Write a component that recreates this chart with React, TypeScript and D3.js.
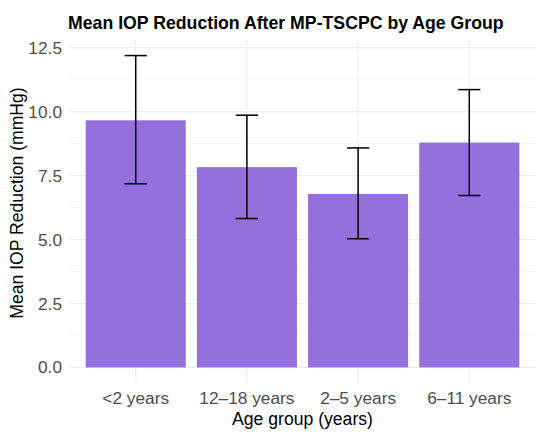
import React, { useEffect, useRef } from 'react';
import * as d3 from 'd3';

const categories = ['<2 years', '12–18 years', '2–5 years', '6–11 years'];
const meanValues = [9.66, 7.83, 6.78, 8.79];
const lowerValues = [7.18, 5.82, 5.03, 6.72];
const upperValues = [12.19, 9.86, 8.58, 10.86];
const yTicks = [0, 2.5, 5, 7.5, 10, 12.5];
const yMinorTicks = [1.25, 3.75, 6.25, 8.75, 11.25];

const WIDTH = 550;
const HEIGHT = 444;
const margin = { top: 40, right: 14, bottom: 61, left: 69 };

const App: React.FC = () => {
  const ref = useRef<SVGSVGElement>(null);

  useEffect(() => {
    if (!ref.current) return;
    const root = d3.select(ref.current);
    root.selectAll('*').remove();

    const innerW = WIDTH - margin.left - margin.right;
    const innerH = HEIGHT - margin.top - margin.bottom;
    const font = "'Liberation Sans', Arial, sans-serif";

    // ggplot-like expansion: discrete add 0.6, continuous mult 0.05
    const n = categories.length;
    const x = d3.scaleLinear().domain([0.4, n + 0.6]).range([0, innerW]);
    const yMax = d3.max(upperValues) as number;
    const pad = yMax * 0.05;
    const y = d3.scaleLinear().domain([-pad, yMax + pad]).range([innerH, 0]);

    const g = root.append('g').attr('transform', `translate(${margin.left},${margin.top})`);

    // grid
    g.selectAll('.minor').data(yMinorTicks).enter().append('line')
      .attr('x1', 0).attr('x2', innerW)
      .attr('y1', d => y(d)).attr('y2', d => y(d))
      .attr('stroke', '#f2f2f2').attr('stroke-width', 0.6);
    g.selectAll('.major').data(yTicks).enter().append('line')
      .attr('x1', 0).attr('x2', innerW)
      .attr('y1', d => y(d)).attr('y2', d => y(d))
      .attr('stroke', '#ebebeb').attr('stroke-width', 1.1);
    g.selectAll('.vgrid').data(categories).enter().append('line')
      .attr('x1', (_, i) => x(i + 1)).attr('x2', (_, i) => x(i + 1))
      .attr('y1', 0).attr('y2', innerH)
      .attr('stroke', '#ebebeb').attr('stroke-width', 1.1);

    // bars
    const bw = x(1.45) - x(0.55);
    g.selectAll('.bar').data(meanValues).enter().append('rect')
      .attr('x', (_, i) => x(i + 1) - bw / 2)
      .attr('width', bw)
      .attr('y', d => y(d))
      .attr('height', d => y(0) - y(d))
      .attr('fill', '#9370DB');

    // error bars
    const cap = x(1.1) - x(0.9);
    categories.forEach((_, i) => {
      const cx = x(i + 1);
      const eb = g.append('g').attr('stroke', '#000').attr('stroke-width', 1.5).attr('fill', 'none');
      eb.append('line').attr('x1', cx).attr('x2', cx).attr('y1', y(lowerValues[i])).attr('y2', y(upperValues[i]));
      eb.append('line').attr('x1', cx - cap / 2).attr('x2', cx + cap / 2).attr('y1', y(lowerValues[i])).attr('y2', y(lowerValues[i]));
      eb.append('line').attr('x1', cx - cap / 2).attr('x2', cx + cap / 2).attr('y1', y(upperValues[i])).attr('y2', y(upperValues[i]));
    });

    // y axis labels
    g.selectAll('.ylab').data(yTicks).enter().append('text')
      .attr('x', -7).attr('y', d => y(d)).attr('dy', '0.35em')
      .attr('text-anchor', 'end')
      .attr('font-family', font).attr('font-size', 17.3).attr('fill', '#4d4d4d')
      .text(d => d3.format('.1f')(d));

    // x axis labels
    g.selectAll('.xlab').data(categories).enter().append('text')
      .attr('x', (_, i) => x(i + 1)).attr('y', 404 - margin.top)
      .attr('text-anchor', 'middle')
      .attr('font-family', font).attr('font-size', 17.3).attr('fill', '#4d4d4d')
      .text(d => d);

    // axis titles
    g.append('text')
      .attr('x', innerW / 2).attr('y', 425 - margin.top)
      .attr('text-anchor', 'middle')
      .attr('font-family', font).attr('font-size', 17.6).attr('fill', '#000')
      .text('Age group (years)');
    root.append('text')
      .attr('transform', `translate(23,203) rotate(-90)`)
      .attr('text-anchor', 'middle')
      .attr('font-family', font).attr('font-size', 17.6).attr('fill', '#000')
      .text('Mean IOP Reduction (mmHg)');

    // title
    root.append('text')
      .attr('x', margin.left - 1).attr('y', 29)
      .attr('font-family', font).attr('font-size', 17.7).attr('font-weight', 'bold').attr('fill', '#000')
      .text('Mean IOP Reduction After MP-TSCPC by Age Group');
  }, []);

  return (
    <svg ref={ref} width={WIDTH} height={HEIGHT} style={{ position: 'absolute', left: 0, top: 0, background: '#fff' }} />
  );
};

export default App;
